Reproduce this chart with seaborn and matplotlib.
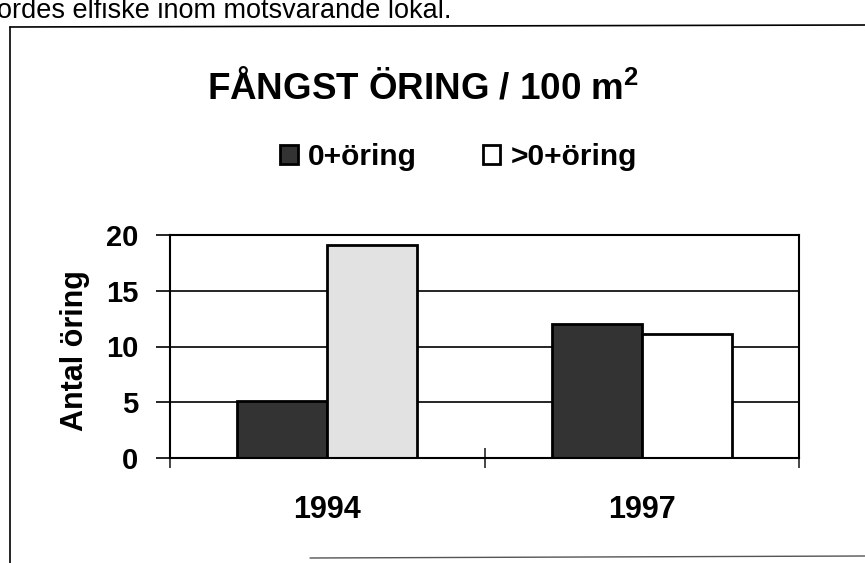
import matplotlib
matplotlib.use("Agg")
import matplotlib.pyplot as plt
from matplotlib.lines import Line2D
import pandas as pd
import seaborn as sns

# data
years = ["1994", "1997"]
groups = ["0+öring", ">0+öring"]
young = [5.1, 12.0]    # 0+öring
older = [19.1, 11.1]   # >0+öring

df = pd.DataFrame({
    "År": years * 2,
    "Grupp": [groups[0]] * len(years) + [groups[1]] * len(years),
    "Antal": young + older,
})

sns.set_theme(style="white")
plt.rcParams["font.family"] = ["Liberation Sans", "DejaVu Sans"]
plt.rcParams["font.weight"] = "bold"
plt.rcParams["text.color"] = "black"
plt.rcParams["mathtext.fontset"] = "custom"
plt.rcParams["mathtext.rm"] = "Liberation Sans:bold"
plt.rcParams["mathtext.default"] = "rm"

fig = plt.figure(figsize=(8.65, 5.63), dpi=100)
ax = fig.add_axes([170 / 865, 1 - 458 / 563, 629 / 865, 223 / 563])

sns.barplot(data=df, x="År", y="Antal", hue="Grupp", palette=["#333333", "#ffffff"],
            edgecolor="black", linewidth=2, width=0.572, gap=0, ax=ax)

# scanned halftone: the 1994 >0 bar prints as light stipple
ax.containers[1][0].set_facecolor("#e2e2e2")

ax.set_xlim(-0.5, 1.5)
ax.set_ylim(0, 20)
ax.set_yticks([0, 5, 10, 15, 20])
ax.yaxis.grid(True, color="black", lw=1.2)
ax.set_axisbelow(True)
for s in ax.spines.values():
    s.set_visible(True)
    s.set_color("black")
    s.set_linewidth(1.5)

ax.tick_params(axis="y", left=True, direction="out", length=10, width=1.2,
               pad=13, labelsize=21, colors="black")
ax.tick_params(axis="x", which="major", length=0, pad=27, labelsize=22, colors="black")
ax.set_xticks([-0.5, 0.5, 1.5], minor=True)
ax.tick_params(axis="x", which="minor", bottom=True, direction="inout", length=14, width=1.2)

ax.set_xlabel("")
ax.set_ylabel("Antal öring", fontsize=22, fontweight="bold", color="black")
ax.yaxis.set_label_coords(-0.127, 0.48)

sns.move_legend(ax, "center", bbox_to_anchor=(0.53, 0.721), bbox_transform=fig.transFigure,
                ncol=2, title=None, frameon=False, fontsize=21.5,
                handlelength=0.6, handleheight=0.6, handletextpad=0.35, columnspacing=2.2)

fig.text(423 / 865, 1 - 88 / 563, "FÅNGST ÖRING / 100 m$^{2}$", ha="center", va="center",
         fontsize=26.5, fontweight="bold", color="black")

# text line of the surrounding page, cut off at the top
fig.text(-0.004, 1 - 18 / 563, "ordes elfiske inom motsvarande lokal.", ha="left",
         va="baseline", fontsize=19.5, fontweight="normal", color="black")

# outer frame of the pasted chart
fig.add_artist(Line2D([10 / 865, 10 / 865], [0, 1 - 27 / 563], transform=fig.transFigure,
                      color="black", lw=1.2))
fig.add_artist(Line2D([10 / 865, 1], [1 - 27 / 563, 1 - 25 / 563], transform=fig.transFigure,
                      color="black", lw=1.2))
fig.add_artist(Line2D([310 / 865, 1], [1 - 558 / 563, 1 - 556 / 563], transform=fig.transFigure,
                      color="#555555", lw=1))

fig.savefig("out.png", dpi=100)
